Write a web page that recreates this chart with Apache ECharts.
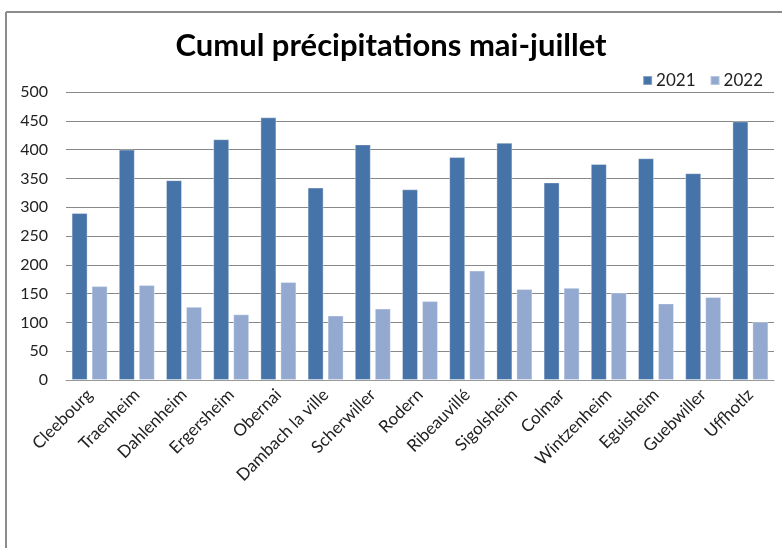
<!DOCTYPE html>
<html>
<head>
<meta charset="utf-8">
<script src="https://cdn.jsdelivr.net/npm/echarts@6/dist/echarts.min.js"></script>
<style>html,body{margin:0;padding:0;background:#fff;}#c{width:782px;height:548px;}</style>
</head>
<body>
<div id="c"></div>
<script>
var categories = ['Cleebourg','Traenheim','Dahlenheim','Ergersheim','Obernai','Dambach la ville','Scherwiller','Rodern','Ribeauvillé','Sigolsheim','Colmar','Wintzenheim','Eguisheim','Guebwiller','Uffhotlz'];
var values2021 = [290, 400, 347, 418, 456, 334, 409, 331, 387, 412, 343, 375, 385, 359, 449];
var values2022 = [163, 165, 127, 114, 170, 112, 124, 137, 190, 158, 160, 152, 133, 144, 101];
var seriesNames = ['2021', '2022'];
var yTicks = {min: 0, max: 500, interval: 50};
var titleText = 'Cumul précipitations mai-juillet';

var chart = echarts.init(document.getElementById('c'), null, {renderer: 'canvas'});
var fontFam = 'Lato, "Open Sans", sans-serif';
chart.setOption({
  animation: false,
  backgroundColor: '#fff',
  title: {
    text: titleText,
    left: 'center',
    top: 25,
    textStyle: {fontFamily: fontFam, fontWeight: 'bold', fontSize: 31, color: '#000'}
  },
  legend: {
    data: seriesNames,
    right: 14,
    top: 67,
    itemWidth: 9,
    itemHeight: 9,
    itemGap: 14,
    icon: 'rect',
    textStyle: {fontFamily: fontFam, fontSize: 17, color: '#222', padding: [0,0,0,-1]}
  },
  grid: {left: 66, right: 8, top: 92, bottom: 168, containLabel: false},
  xAxis: {
    type: 'category',
    data: categories,
    axisLine: {show: true, lineStyle: {color: '#999', width: 1}},
    axisTick: {show: false},
    axisLabel: {rotate: 45, interval: 0, margin: 12, fontFamily: fontFam, fontSize: 17, color: '#222'}
  },
  yAxis: {
    type: 'value',
    min: yTicks.min, max: yTicks.max, interval: yTicks.interval,
    axisLine: {show: false},
    axisTick: {show: false},
    axisLabel: {margin: 18, fontFamily: fontFam, fontSize: 16, color: '#222'},
    splitLine: {lineStyle: {color: '#888', width: 1.2}}
  },
  series: [
    {name: seriesNames[0], type: 'bar', data: values2021, barWidth: 16, barGap: '25%',
     itemStyle: {color: '#4673A8', borderColor: 'rgba(255,255,255,0.35)', borderWidth: 1}},
    {name: seriesNames[1], type: 'bar', data: values2022, barWidth: 16,
     itemStyle: {color: '#94A9D0', borderColor: 'rgba(255,255,255,0.35)', borderWidth: 1}}
  ],
  graphic: [
    {type: 'line', shape: {x1: 6, y1: 12, x2: 782, y2: 12}, style: {stroke: '#8c8c8c', lineWidth: 2}},
    {type: 'line', shape: {x1: 6, y1: 12, x2: 6, y2: 548}, style: {stroke: '#8c8c8c', lineWidth: 2}}
  ]
});
</script>
</body>
</html>
